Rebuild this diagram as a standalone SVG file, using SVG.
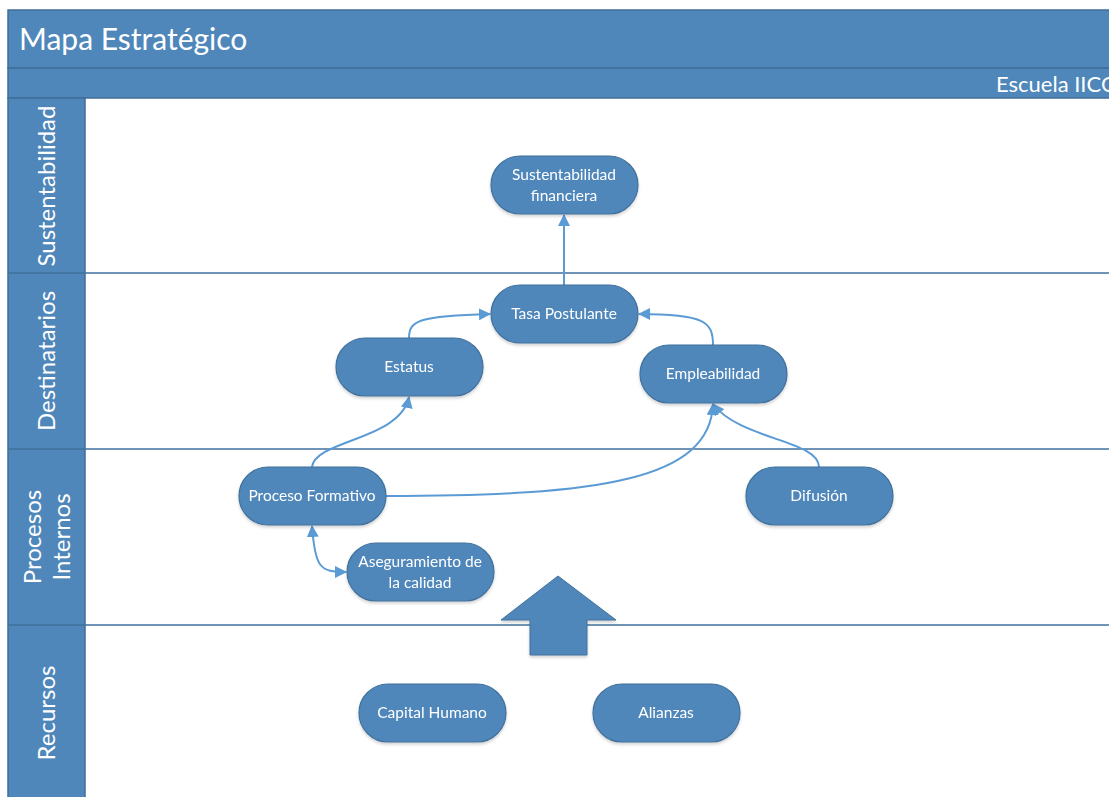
<svg xmlns="http://www.w3.org/2000/svg" width="1109" height="797" viewBox="0 0 1109 797">
  <defs>
    <style>
      .band { fill: #4f87bb; stroke: #3f6e9a; stroke-width: 1.5; }
      .divider { stroke: #41719c; stroke-width: 1.5; fill: none; }
      .node rect { fill: #4f87bb; stroke: #41719c; stroke-width: 1.2; }
      .node text, .hdr { fill: #ffffff; font-family: Lato, "Open Sans", sans-serif; text-anchor: middle; }
      .node text { font-size: 15.5px; }
      .lanehdr { font-size: 24px; }
      .conn { stroke: #5b9bd5; stroke-width: 2; fill: none; }
    </style>
    <marker id="arr" viewBox="0 0 12 12" refX="11" refY="6" markerWidth="12" markerHeight="12" markerUnits="userSpaceOnUse" orient="auto-start-reverse">
      <path d="M0,0 L12,6 L0,12 Z" fill="#5b9bd5"/>
    </marker>
    <filter id="sh" x="-10%" y="-10%" width="130%" height="140%">
      <feDropShadow dx="0" dy="2" stdDeviation="1.5" flood-color="#000" flood-opacity="0.18"/>
    </filter>
  </defs>

  <rect width="1109" height="797" fill="#ffffff"/>

  <!-- pool header -->
  <rect class="band" x="8" y="10" width="1110" height="58"/>
  <text class="hdr" x="19" y="50" font-size="30" style="text-anchor:start">Mapa Estratégico</text>
  <rect class="band" x="8" y="68" width="1110" height="30"/>
  <text class="hdr" x="996" y="92" font-size="22" style="text-anchor:start">Escuela IICO</text>

  <!-- lane headers -->
  <rect class="band" x="8" y="98" width="77" height="710"/>
  <line class="divider" x1="8" y1="273" x2="1109" y2="273"/>
  <line class="divider" x1="8" y1="449" x2="1109" y2="449"/>
  <line class="divider" x1="8" y1="625" x2="1109" y2="625"/>
  <text class="hdr lanehdr" transform="translate(55,186) rotate(-90)">Sustentabilidad</text>
  <text class="hdr lanehdr" transform="translate(55,361) rotate(-90)">Destinatarios</text>
  <text class="hdr lanehdr" transform="translate(41,537) rotate(-90)">Procesos</text>
  <text class="hdr lanehdr" transform="translate(70,537) rotate(-90)">Internos</text>
  <text class="hdr lanehdr" transform="translate(55,713) rotate(-90)">Recursos</text>

  <!-- connectors -->
  <g id="connectors">
    <path class="conn" d="M564,285 L564,215" marker-end="url(#arr)"/>
    <path class="conn" d="M409,338 C409,320 420,316 490,314" marker-end="url(#arr)"/>
    <path class="conn" d="M713,345 C713,322 705,314 639,314" marker-end="url(#arr)"/>
    <path class="conn" d="M312,467 C315,440 400,440 409,397" marker-end="url(#arr)"/>
    <path class="conn" d="M386,496 C600,496 710,480 713,404" marker-end="url(#arr)"/>
    <path class="conn" d="M819,467 C819,440 740,440 713,404" marker-end="url(#arr)"/>
    <path class="conn" d="M312,526 C315,568 320,572 346,572" marker-start="url(#arr)" marker-end="url(#arr)"/>
  </g>

  <!-- resource flow arrow -->
  <path d="M558,576 L616,620 L587,620 L587,655 L530,655 L530,620 L501,620 Z" fill="#4f87bb" stroke="#41719c" stroke-width="1" filter="url(#sh)"/>

  <g id="n-sustentabilidad" class="node" filter="url(#sh)">
    <rect x="491" y="156" width="147" height="58" rx="29"/>
    <text x="564" y="180">Sustentabilidad</text>
    <text x="564" y="201">financiera</text>
  </g>
  <g id="n-tasa" class="node" filter="url(#sh)">
    <rect x="491" y="285" width="147" height="58" rx="29"/>
    <text x="564" y="319">Tasa Postulante</text>
  </g>
  <g id="n-estatus" class="node" filter="url(#sh)">
    <rect x="336" y="338" width="147" height="58" rx="29"/>
    <text x="409" y="372">Estatus</text>
  </g>
  <g id="n-empleabilidad" class="node" filter="url(#sh)">
    <rect x="640" y="345" width="147" height="58" rx="29"/>
    <text x="713" y="379">Empleabilidad</text>
  </g>
  <g id="n-proceso" class="node" filter="url(#sh)">
    <rect x="239" y="467" width="147" height="58" rx="29"/>
    <text x="312" y="501">Proceso Formativo</text>
  </g>
  <g id="n-difusion" class="node" filter="url(#sh)">
    <rect x="746" y="467" width="147" height="58" rx="29"/>
    <text x="819" y="501">Difusión</text>
  </g>
  <g id="n-aseguramiento" class="node" filter="url(#sh)">
    <rect x="347" y="543" width="147" height="58" rx="29"/>
    <text x="420" y="567">Aseguramiento de</text>
    <text x="420" y="588">la calidad</text>
  </g>
  <g id="n-capital" class="node" filter="url(#sh)">
    <rect x="359" y="684" width="147" height="58" rx="29"/>
    <text x="432" y="718">Capital Humano</text>
  </g>
  <g id="n-alianzas" class="node" filter="url(#sh)">
    <rect x="593" y="684" width="147" height="58" rx="29"/>
    <text x="666" y="718">Alianzas</text>
  </g>
</svg>
